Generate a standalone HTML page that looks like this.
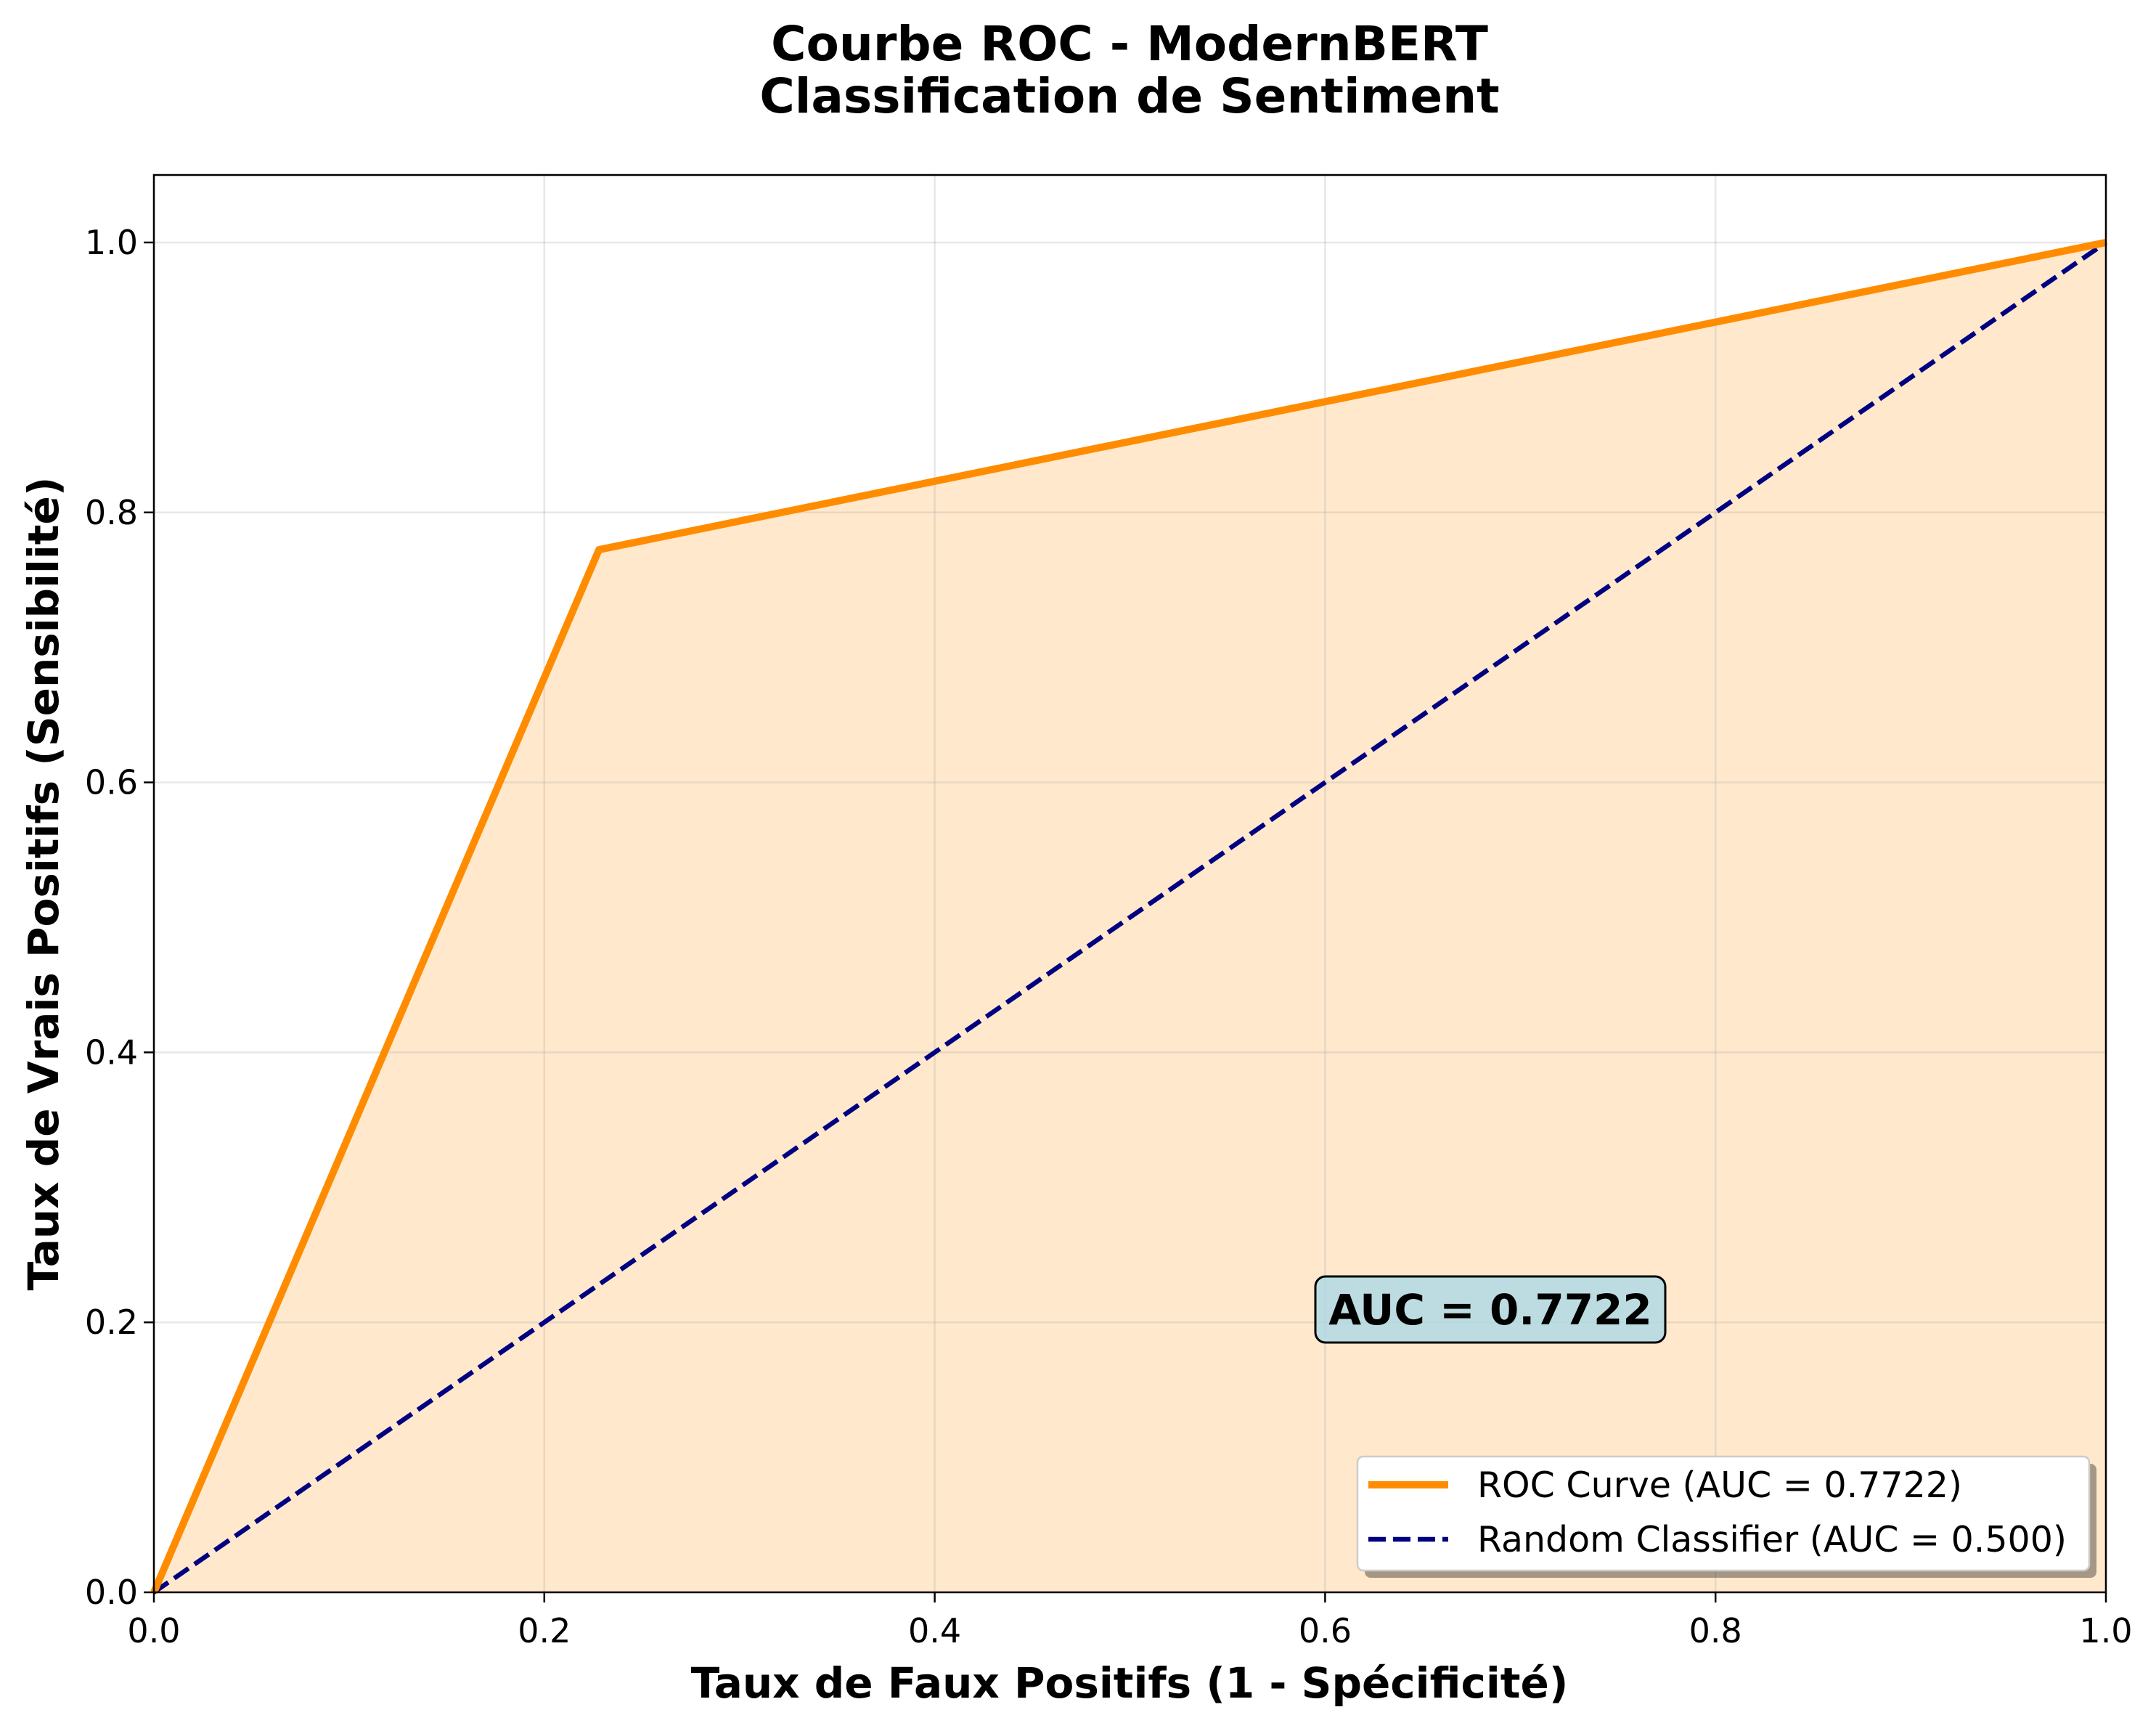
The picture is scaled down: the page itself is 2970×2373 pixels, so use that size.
<!DOCTYPE html>
<html><head><meta charset="utf-8"><style>
html,body{margin:0;padding:0;background:#fff}
svg{display:block;font-family:"DejaVu Sans","Liberation Sans",sans-serif}
</style></head><body>
<svg width="2970" height="2373" viewBox="0 0 2970 2373">
<g id="plot"></g>
</svg>
<script>
const fprValues=[0,0.228,1];
const tprValues=[0,0.7724,1];
const randomX=[0,1];
const randomY=[0,1];
const xTicks=[0,0.2,0.4,0.6,0.8,1.0];
const yTicks=[0,0.2,0.4,0.6,0.8,1.0];
const tickLabels=["0.0","0.2","0.4","0.6","0.8","1.0"];
const aucValue="0.7722";

const L=212,R=2901,T=241,B=2193;
const xS=v=>L+v*(R-L);
const yS=v=>B-v/1.05*(B-T);
const NS="http://www.w3.org/2000/svg";
const g=document.getElementById('plot');
function el(tag,attrs,txt){const e=document.createElementNS(NS,tag);for(const k in attrs)e.setAttribute(k,attrs[k]);if(txt!==undefined)e.textContent=txt;g.appendChild(e);return e;}

let fp=fprValues.map((x,i)=>xS(x)+','+yS(tprValues[i])).join(' ')+` ${xS(1)},${yS(0)} ${xS(0)},${yS(0)}`;
let f=el('polygon',{points:fp,fill:'#ff8c00','fill-opacity':0.2});


xTicks.forEach((t,i)=>{let l=el('line',{x1:xS(t),x2:xS(t),y1:T,y2:B,stroke:'#b0b0b0','stroke-opacity':0.3,'stroke-width':2.5});

});
yTicks.forEach((t,i)=>{let l=el('line',{x1:L,x2:R,y1:yS(t),y2:yS(t),stroke:'#b0b0b0','stroke-opacity':0.3,'stroke-width':2.5});

});
let rl=el('polyline',{points:randomX.map((x,i)=>xS(x)+','+yS(randomY[i])).join(' '),fill:'none',stroke:'#000080','stroke-width':6.5,'stroke-dasharray':'24,10'});


let rc=el('polyline',{points:fprValues.map((x,i)=>xS(x)+','+yS(tprValues[i])).join(' '),fill:'none',stroke:'#ff8c00','stroke-width':10,'stroke-linejoin':'round','stroke-linecap':'butt'});


let fr=el('rect',{x:L,y:T,width:R-L,height:B-T,fill:'none',stroke:'#000','stroke-width':2.5});


xTicks.forEach((t,i)=>{el('line',{x1:xS(t),x2:xS(t),y1:B,y2:B+14,stroke:'#000','stroke-width':2.5});
let tx=el('text',{x:xS(t),y:2262,'font-size':46,'text-anchor':'middle'},tickLabels[i]);

});
yTicks.forEach((t,i)=>{el('line',{x1:L-14,x2:L,y1:yS(t),y2:yS(t),stroke:'#000','stroke-width':2.5});
let tx=el('text',{x:190,y:yS(t)+16,'font-size':46,'text-anchor':'end'},tickLabels[i]);

});
let xl=el('text',{x:1556,y:2338,'font-size':58,'font-weight':'bold','text-anchor':'middle'},'Taux de Faux Positifs (1 - Spécificité)');


let yl=el('text',{x:0,y:0,'font-size':58,'font-weight':'bold','text-anchor':'middle',transform:'translate(80,1217) rotate(-90)'},'Taux de Vrais Positifs (Sensibilité)');


let t1=el('text',{x:1556,y:83,'font-size':66,'font-weight':'bold','text-anchor':'middle'},'Courbe ROC - ModernBERT');


let t2=el('text',{x:1556,y:155,'font-size':66,'font-weight':'bold','text-anchor':'middle'},'Classification de Sentiment');


let ab=el('rect',{x:1812,y:1758,width:482,height:91,rx:14,fill:'#add8e6','fill-opacity':0.8,stroke:'#000','stroke-width':3});


let at=el('text',{x:2053,y:1824,'font-size':58,'font-weight':'bold','text-anchor':'middle'},'AUC = '+aucValue);


el('rect',{x:1880,y:2016,width:1008,height:157,rx:8,fill:'#000','fill-opacity':0.35});
let lg=el('rect',{x:1870,y:2006,width:1008,height:157,rx:8,fill:'#fff',stroke:'#ccc','stroke-width':2.5});


el('line',{x1:1885,x2:1995,y1:2045,y2:2045,stroke:'#ff8c00','stroke-width':10});
let le1=el('text',{x:2035,y:2062,'font-size':49},'ROC Curve (AUC = '+aucValue+')');


el('line',{x1:1885,x2:1995,y1:2120,y2:2120,stroke:'#000080','stroke-width':6.5,'stroke-dasharray':'24,10'});
let le2=el('text',{x:2035,y:2137,'font-size':49},'Random Classifier (AUC = 0.500)');


</script>
</body></html>
